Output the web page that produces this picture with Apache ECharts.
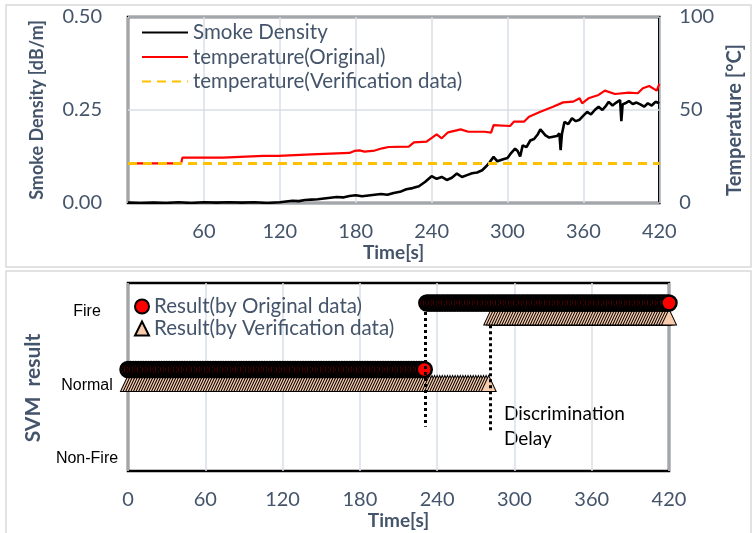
<!DOCTYPE html>
<html>
<head>
<meta charset="utf-8">
<script src="https://cdn.jsdelivr.net/npm/echarts@6/dist/echarts.min.js"></script>
<style>
  html, body { margin: 0; background: #fff; }
  #main { width: 753px; height: 533px; }
</style>
</head>
<body>
<div id="main"></div>
<script>
// smoke density [dB/m] vs time [s]
var smokeTime = [0, 10, 20, 30, 40, 50, 60, 70, 80, 90, 100, 110, 120, 125, 130, 135, 140, 145, 150, 155, 160, 165, 170, 175, 180, 185, 190, 195, 200, 205, 210, 215, 220, 225, 230, 235, 240, 244, 248, 252, 256, 260, 264, 268, 272, 276, 280, 283, 286, 289, 292, 296, 300, 303, 306, 308, 310, 312, 315, 318, 321, 324, 326, 328, 330, 333, 336, 339, 341, 342, 343, 345, 348, 351, 354, 357, 360, 363, 366, 369, 372, 375, 378, 380, 383, 386, 389, 390, 391, 393, 396, 399, 402, 405, 408, 411, 414, 417, 420]
var smokeVal = [0.001, 0.000, 0.001, 0.000, 0.002, 0.000, 0.002, 0.001, 0.002, 0.001, 0.002, 0.000, 0.002, 0.004, 0.006, 0.005, 0.008, 0.009, 0.010, 0.012, 0.014, 0.016, 0.015, 0.019, 0.021, 0.018, 0.020, 0.022, 0.024, 0.022, 0.027, 0.030, 0.037, 0.040, 0.045, 0.057, 0.072, 0.065, 0.070, 0.062, 0.068, 0.079, 0.070, 0.075, 0.080, 0.082, 0.088, 0.098, 0.110, 0.124, 0.112, 0.117, 0.121, 0.135, 0.146, 0.140, 0.125, 0.155, 0.150, 0.168, 0.172, 0.185, 0.198, 0.190, 0.182, 0.176, 0.178, 0.180, 0.187, 0.142, 0.185, 0.218, 0.212, 0.228, 0.220, 0.224, 0.235, 0.245, 0.238, 0.250, 0.259, 0.250, 0.262, 0.272, 0.262, 0.270, 0.277, 0.220, 0.265, 0.268, 0.274, 0.266, 0.270, 0.265, 0.259, 0.268, 0.262, 0.272, 0.268]

// temperature (original) [°C]
var tempTime = [0, 42, 43, 75, 76, 107, 108, 110, 119, 120, 145, 146, 175, 179, 183, 187, 195, 201, 206, 222, 226, 236, 244, 248, 253, 263, 269, 282, 287, 289, 302, 305, 313, 317, 326, 336, 344, 352, 357, 359, 364, 372, 377, 385, 396, 403, 407, 412, 418, 420]
var tempVal = [21.3, 21.3, 24.4, 24.4, 25.3, 25.3, 25.8, 25.3, 25.3, 26.1, 26.1, 26.9, 26.9, 28.0, 28.3, 27.6, 28.2, 29.4, 30.1, 30.3, 32.6, 33.0, 36.9, 34.8, 38.0, 39.6, 38.3, 38.3, 37.8, 41.9, 41.4, 43.7, 43.7, 46.4, 49.1, 51.8, 54.1, 54.5, 56.3, 53.6, 56.3, 58.1, 60.4, 58.6, 59.3, 59.0, 61.7, 62.9, 60.4, 64.0]

// temperature (verification data) [°C]
var verifTempTime = [0, 420]
var verifTempVal = [21.3, 21.3]

// SVM result: 0 = Non-Fire, 1 = Normal, 2 = Fire
var stateLabels = ['Non-Fire', 'Normal', 'Fire']
var resultStep = 2
var origSegments = [[0, 230, 1], [232, 420, 2]]
var verifSegments = [[0, 280, 1], [282, 420, 2]]
var origSwitch = 231
var verifSwitch = 281

var slate = '#44546a'
var calibri = 'Lato'

function pairs(xs, ys) {
  return xs.map(function (x, i) { return [x, ys[i]] })
}

// marker rows sit a little off the label rows
var origOffset = { 1: -16, 2: -9 }
var verifOffset = { 1: -2, 2: 5 }

function expand(segments, offsets) {
  var out = []
  segments.forEach(function (s) {
    for (var t = s[0]; t <= s[1]; t += resultStep) {
      out.push({ value: [t, s[2]], symbolOffset: [0, offsets[s[2]]] })
    }
  })
  return out
}

var chart = echarts.init(document.getElementById('main'))

var axisText = { color: slate, fontFamily: calibri, fontSize: 20 }
var gridLine = { show: true, lineStyle: { color: '#d9dee7', width: 1.5 } }

var option = {
  animation: false,
  graphic: [
    { type: 'rect', shape: { x: 6, y: 5, width: 745, height: 262 }, style: { fill: 'none', stroke: '#d9d9d9', lineWidth: 1.5 }, z: -1 },
    { type: 'rect', shape: { x: 6, y: 271, width: 745, height: 270 }, style: { fill: 'none', stroke: '#d9d9d9', lineWidth: 1.5 }, z: -1 },
    { type: 'text', left: 504, top: 401, style: { text: 'Discrimination\nDelay', fill: '#000', font: '19px ' + calibri, lineHeight: 25 } }
  ],
  legend: [
    {
      left: 136, top: 17, orient: 'vertical', itemGap: 3.5,
      itemWidth: 46, itemHeight: 14,
      itemStyle: { opacity: 0 },
      textStyle: { color: slate, fontFamily: calibri, fontSize: 20.5 },
      data: ['Smoke Density', 'temperature(Original)', 'temperature(Verification data)']
    },
    {
      left: 129, top: 291, orient: 'vertical', itemGap: 1,
      itemWidth: 14, itemHeight: 14,
      textStyle: { color: slate, fontFamily: calibri, fontSize: 20.5 },
      data: ['Result(by Original data)', 'Result(by Verification data)']
    }
  ],
  grid: [
    { left: 128, top: 17, width: 540, height: 186, show: true, borderColor: '#000', borderWidth: 2.5, backgroundColor: 'transparent' },
    { left: 128, top: 283, width: 541, height: 188, show: true, borderColor: '#000', borderWidth: 2.5, backgroundColor: 'transparent' }
  ],
  xAxis: [
    {
      gridIndex: 0, type: 'value', min: 0, max: 420, interval: 60,
      axisLine: { show: false }, axisTick: { show: false },
      axisLabel: Object.assign({ margin: 19, showMinLabel: false }, axisText),
      splitLine: gridLine,
      name: 'Time[s]', nameLocation: 'middle', nameGap: 40,
      nameTextStyle: { color: slate, fontFamily: calibri, fontSize: 19, fontWeight: 'bold' }
    },
    {
      gridIndex: 1, type: 'value', min: 0, max: 420, interval: 60,
      axisLine: { show: false }, axisTick: { show: false },
      axisLabel: Object.assign({ margin: 19 }, axisText),
      splitLine: gridLine,
      name: 'Time[s]', nameLocation: 'middle', nameGap: 38,
      nameTextStyle: { color: slate, fontFamily: calibri, fontSize: 19, fontWeight: 'bold' }
    }
  ],
  yAxis: [
    {
      gridIndex: 0, type: 'value', min: 0, max: 0.5, interval: 0.25,
      axisLine: { show: false }, axisTick: { show: false },
      axisLabel: Object.assign({ margin: 26, formatter: function (v) { return v.toFixed(2) } }, axisText),
      splitLine: gridLine,
      name: 'Smoke Density [dB/m]', nameLocation: 'middle', nameRotate: 90, nameGap: 82,
      nameTextStyle: { color: slate, fontFamily: calibri, fontSize: 18, fontWeight: 'bold' }
    },
    {
      gridIndex: 0, type: 'value', min: 0, max: 100, interval: 50, position: 'right',
      axisLine: { show: false }, axisTick: { show: false },
      axisLabel: Object.assign({ margin: 20 }, axisText),
      splitLine: { show: false },
      name: 'Temperature [°C]', nameLocation: 'middle', nameRotate: 90, nameGap: 58,
      nameTextStyle: { color: slate, fontFamily: calibri, fontSize: 20, fontWeight: 'bold', padding: [0, 20, 0, 0] }
    },
    {
      gridIndex: 1, type: 'value', min: -0.163, max: 2.395,
      axisLine: { show: false }, axisTick: { show: false },
      axisLabel: {
        customValues: [0, 1, 2], align: 'center', margin: 41,
        color: '#000', fontFamily: 'Liberation Sans', fontSize: 16,
        formatter: function (v) { return stateLabels[Math.round(v)] }
      },
      splitLine: { show: false },
      name: 'SVM  result', nameLocation: 'middle', nameRotate: 90, nameGap: 84,
      nameTextStyle: { color: slate, fontFamily: calibri, fontSize: 21, fontWeight: 'bold', padding: [0, 22, 0, 0] }
    }
  ],
  series: [
    {
      name: 'Smoke Density', type: 'line', xAxisIndex: 0, yAxisIndex: 0,
      data: pairs(smokeTime, smokeVal), showSymbol: false, symbol: 'none',
      lineStyle: { color: '#000', width: 2.6 }, itemStyle: { color: '#000' }
    },
    {
      name: 'temperature(Original)', type: 'line', xAxisIndex: 0, yAxisIndex: 1,
      data: pairs(tempTime, tempVal), showSymbol: false, symbol: 'none',
      lineStyle: { color: '#ff0000', width: 2.2 }, itemStyle: { color: '#ff0000' }
    },
    {
      name: 'temperature(Verification data)', type: 'line', xAxisIndex: 0, yAxisIndex: 1,
      data: pairs(verifTempTime, verifTempVal), showSymbol: false, symbol: 'none',
      lineStyle: { color: '#ffc000', width: 3, type: [9, 6] }, itemStyle: { color: '#ffc000' }
    },
    {
      name: 'Result(by Original data)', type: 'scatter', xAxisIndex: 1, yAxisIndex: 2,
      data: expand(origSegments, origOffset),
      symbol: 'circle', symbolSize: 15,
      itemStyle: { color: '#ff0000', borderColor: '#000', borderWidth: 2.5, opacity: 1 },
      z: 3,
      markLine: {
        silent: true, symbol: 'none', label: { show: false },
        lineStyle: { color: '#000', type: 'dotted', width: 3 },
        data: [
          [{ coord: [origSwitch, 2.0] }, { coord: [origSwitch, 0.44] }],
          [{ coord: [verifSwitch, 1.82] }, { coord: [verifSwitch, 0.37] }]
        ]
      }
    },
    {
      name: 'Result(by Verification data)', type: 'scatter', xAxisIndex: 1, yAxisIndex: 2,
      data: expand(verifSegments, verifOffset),
      symbol: 'triangle', symbolSize: [15, 16],
      itemStyle: { color: '#f8cbad', borderColor: '#000', borderWidth: 1, opacity: 1 },
      z: 2
    }
  ]
}

chart.setOption(option)
</script>
</body>
</html>
